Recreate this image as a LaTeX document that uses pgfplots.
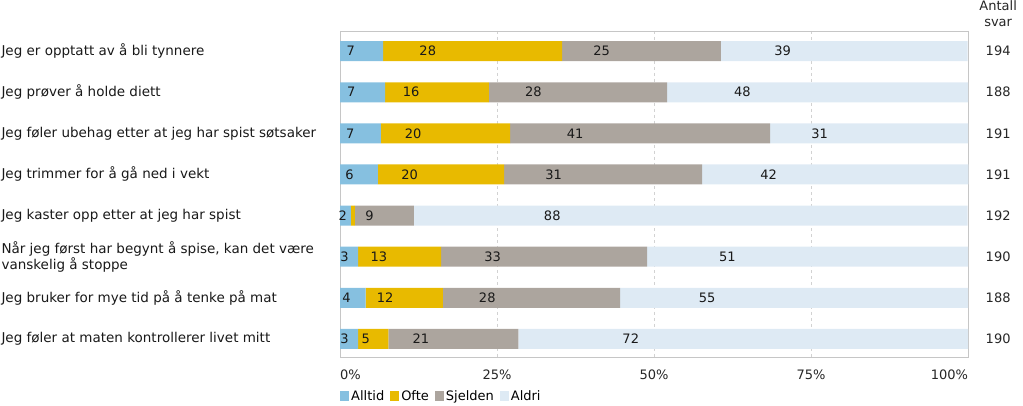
\documentclass[border=0pt]{standalone}
\usepackage{fontspec}
\setmainfont{DejaVu Sans}
\usepackage{pgfplots}
\usepackage{pgfplotstable}
\pgfplotsset{compat=1.18}

\definecolor{alltid}{RGB}{134,192,224}
\definecolor{ofte}{RGB}{232,186,0}
\definecolor{sjelden}{RGB}{172,165,158}
\definecolor{aldri}{RGB}{222,234,244}

% widths measured from the bars, labels as printed
\pgfplotstableread{
y a al b bl c cl d dl
0 6.85 7 28.5 28 25.3 25 39.3 39
1 7.2 7 16.5 16 28.4 28 47.9 48
2 6.5 7 20.6 20 41.4 41 31.5 31
3 6.05 6 20.1 20 31.5 31 42.4 42
4 1.75 2 0.6 {} 9.4 9 88.2 88
5 2.9 3 13.2 13 32.8 33 51.1 51
6 4.1 4 12.3 12 28.2 28 55.4 55
7 2.9 3 4.8 5 20.7 21 71.6 72
}\data

\begin{document}
\begin{tikzpicture}[font=\fontsize{13bp}{16bp}\selectfont]
\path[use as bounding box] (0,0) rectangle (1023bp,406bp);
\begin{axis}[
  at={(340bp,49bp)}, anchor=south west,
  scale only axis, width=628bp, height=326bp,
  xbar stacked, bar width=20bp,
  xmin=0, xmax=100, ymin=-0.49, ymax=7.44, y dir=reverse,
  xtick={0,25,50,75,100},
  xticklabels={\makebox[0pt][l]{0\%}, 25\%, 50\%, 75\%, \makebox[0pt][r]{100\%}},
  ytick={0,...,7},
  yticklabels={Jeg er opptatt av å bli tynnere,
    Jeg prøver å holde diett,
    Jeg føler ubehag etter at jeg har spist søtsaker,
    Jeg trimmer for å gå ned i vekt,
    Jeg kaster opp etter at jeg har spist,
    {Når jeg først har begynt å spise, kan det være\\vanskelig å stoppe},
    Jeg bruker for mye tid på å tenke på mat,
    Jeg føler at maten kontrollerer livet mitt},
  yticklabel style={anchor=west, xshift=-342bp, align=left, text=black!90,
    font=\fontsize{13.5bp}{16bp}\selectfont},
  xticklabel style={text=black!85, yshift=-9bp},
  major tick length=0,
  xmajorgrids, grid style={gray!35, dashed},
  axis line style={gray!45},
  clip=false,
  nodes near coords, point meta=explicit symbolic,
  every node near coord/.append style={anchor=center, xshift={-1.57bp*\segw}, text=black!90},
  legend style={at={(0,-0.095)}, anchor=north west, legend columns=-1, draw=none,
    inner sep=0pt, font=\fontsize{13bp}{16bp}\selectfont,
    /tikz/every even column/.append style={column sep=4bp}},
  legend image code/.code={\path[#1, draw=none] (0bp,-5bp) rectangle (9bp,5bp);},
]
\addplot[fill=alltid, draw=none, visualization depends on={\thisrow{a} \as \segw}] table[x=a, y=y, meta=al] {\data};
\addplot[fill=ofte, draw=none, visualization depends on={\thisrow{b} \as \segw}] table[x=b, y=y, meta=bl] {\data};
\addplot[fill=sjelden, draw=none, visualization depends on={\thisrow{c} \as \segw}] table[x=c, y=y, meta=cl] {\data};
\addplot[fill=aldri, draw=none, visualization depends on={\thisrow{d} \as \segw}] table[x=d, y=y, meta=dl] {\data};
\legend{Alltid, Ofte, Sjelden, Aldri}

\node[align=center, text=black!85] at (axis cs:104.8,-0.9) {Antall\\svar};
\node[text=black!85] at (axis cs:104.8,0) {194};
\node[text=black!85] at (axis cs:104.8,1) {188};
\node[text=black!85] at (axis cs:104.8,2) {191};
\node[text=black!85] at (axis cs:104.8,3) {191};
\node[text=black!85] at (axis cs:104.8,4) {192};
\node[text=black!85] at (axis cs:104.8,5) {190};
\node[text=black!85] at (axis cs:104.8,6) {188};
\node[text=black!85] at (axis cs:104.8,7) {190};
\end{axis}
\end{tikzpicture}
\end{document}
